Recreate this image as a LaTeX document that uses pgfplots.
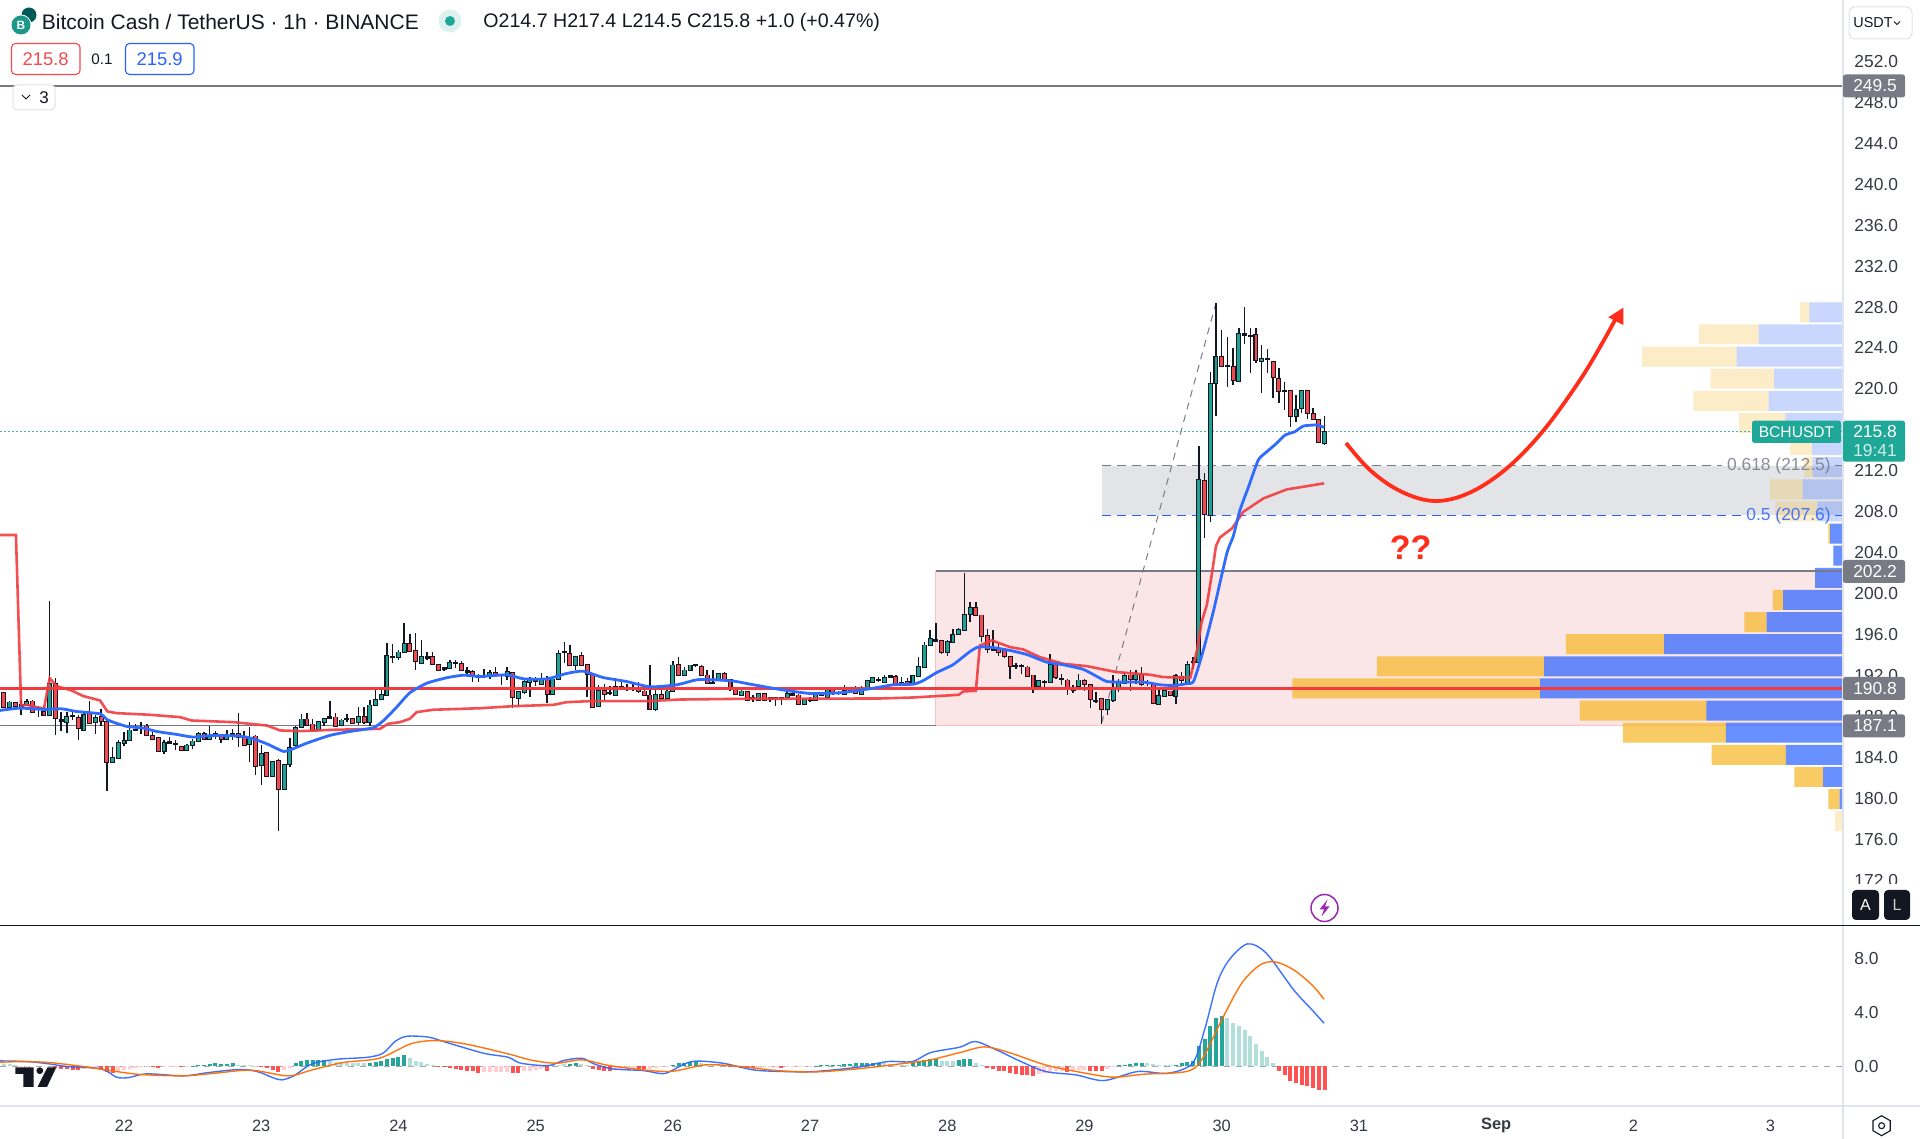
\documentclass[border=0pt]{standalone}
\usepackage{pgfplots}
\pgfplotsset{compat=1.18}
\usepackage{pgfplotstable}
\usepackage{fontspec}
\setmainfont{Liberation Sans}
\definecolor{tvgreen}{HTML}{1FA193}
\definecolor{tvred}{HTML}{F44A4F}
\definecolor{tvblack}{HTML}{131722}
\definecolor{tvgrey}{HTML}{787B86}
\definecolor{tvline}{HTML}{E0E3EB}
\definecolor{tvblue}{HTML}{2962FF}
\definecolor{emablue}{HTML}{2F6BFF}
\definecolor{linered}{HTML}{F23B3F}
\definecolor{vpyellow}{HTML}{F6B624}
\definecolor{zonepink}{HTML}{FAE6E7}
\definecolor{zonegrey}{HTML}{E2E4E7}
\definecolor{tagteal}{HTML}{1FA897}
\definecolor{histdg}{HTML}{26A69A}
\definecolor{histlg}{HTML}{B2DFDB}
\definecolor{histdr}{HTML}{FF5252}
\definecolor{histlr}{HTML}{FFCDD2}
\definecolor{macdorange}{HTML}{FF6D00}
\definecolor{arrowred}{HTML}{FF2D1A}
\definecolor{bolt}{HTML}{9C27B0}
% t: hour from 22 Aug 00:00; s: 1 up, 0 down, 2 doji
\pgfplotstableread{
t s o h l c
-21 0 190.27 190.37 188.84 188.91
-20 1 188.94 189.46 188.68 189.36
-19 0 189.30 189.40 188.91 188.97
-18 2 189.04 189.56 188.09 189.13
-17 1 189.13 189.66 189.00 189.40
-16 0 189.46 189.56 188.32 188.42
-15 2 188.68 189.00 187.93 188.81
-14 0 188.42 188.91 188.03 188.16
-13 1 188.09 199.26 188.09 191.15
-12 0 191.19 191.74 186.14 187.83
-11 2 187.64 188.42 186.53 187.57
-10 1 187.44 188.42 186.40 187.93
-9 2 188.00 188.42 187.60 188.06
-8 0 187.83 188.09 185.65 186.85
-7 1 186.72 188.35 186.63 188.16
-6 0 188.19 189.49 187.28 187.38
-5 1 187.44 188.09 186.30 187.83
-4 0 187.93 188.68 187.11 187.51
-3 0 187.44 187.51 180.70 183.50
-2 1 183.53 185.00 183.47 183.92
-1 1 183.92 185.65 183.86 185.39
0 1 185.39 186.46 185.10 185.62
1 1 185.65 187.44 185.58 186.63
2 2 186.66 187.28 186.53 186.72
3 2 186.92 187.44 186.30 186.85
4 0 187.02 187.21 186.07 186.14
5 0 186.07 186.46 185.65 185.78
6 0 185.88 185.98 184.57 184.64
7 1 184.64 185.65 184.35 185.39
8 2 185.45 185.98 185.32 185.52
9 2 185.29 185.65 184.67 185.36
10 0 185.00 185.10 184.61 184.67
11 1 184.67 185.32 184.61 185.16
12 1 185.23 185.81 184.77 185.55
13 1 185.58 186.46 185.49 186.24
14 0 186.24 186.46 185.65 185.81
15 1 185.81 187.11 185.65 186.14
16 2 186.20 186.53 185.81 186.27
17 0 186.07 186.14 185.42 185.81
18 1 185.81 186.72 185.75 186.11
19 2 186.27 186.79 185.65 186.33
20 0 186.30 188.35 185.00 185.98
21 0 185.98 186.53 185.16 185.23
22 1 185.26 186.95 183.53 185.91
23 0 186.04 186.14 182.23 183.14
24 1 183.30 185.23 181.32 184.35
25 0 184.44 184.57 182.07 182.16
26 1 182.16 183.53 182.07 183.53
27 0 183.63 183.79 176.79 180.93
28 1 180.93 183.37 180.93 183.30
29 1 183.37 185.88 183.04 184.93
30 1 185.16 187.11 184.84 186.85
31 1 186.95 188.25 186.89 187.70
32 0 187.70 188.35 187.11 187.18
33 0 187.21 187.77 186.63 186.72
34 1 186.66 187.54 186.53 187.44
35 1 187.44 187.83 187.11 187.77
36 2 187.86 189.46 187.77 187.93
37 0 187.90 188.32 187.05 187.11
38 1 187.18 187.77 187.05 187.60
39 2 187.73 188.22 187.44 187.80
40 0 187.77 187.83 187.28 187.38
41 1 187.44 188.91 187.18 187.99
42 0 187.99 188.91 187.28 187.44
43 1 187.44 189.56 187.11 189.07
44 1 189.07 190.70 189.00 189.62
45 1 189.72 190.76 189.56 190.14
46 1 190.11 195.16 189.98 193.95
47 2 193.79 195.09 193.24 193.86
48 1 193.79 194.44 193.47 194.25
49 1 194.28 197.11 194.22 195.09
50 0 195.09 196.07 194.28 194.41
51 0 194.35 196.17 192.49 193.40
52 1 193.24 195.49 193.11 193.79
53 2 193.73 194.28 193.47 193.79
54 0 193.79 194.28 192.98 193.08
55 0 193.01 193.14 192.39 192.49
56 2 192.62 192.81 192.39 192.69
57 1 192.72 193.53 192.65 193.21
58 2 193.17 193.47 192.72 193.24
59 0 193.14 193.37 192.49 192.55
60 2 192.36 192.81 192.00 192.42
61 0 192.33 192.49 191.41 191.94
62 2 191.81 192.16 191.35 191.87
63 2 191.90 192.65 191.74 191.97
64 1 191.93 192.49 191.67 192.26
65 0 192.26 192.81 191.93 192.00
66 2 192.00 192.06 191.09 192.06
67 1 191.93 192.81 191.51 192.32
68 0 192.26 192.32 188.81 189.88
69 1 189.78 190.53 188.97 190.37
70 1 190.37 191.51 190.21 191.35
71 1 191.41 191.84 189.88 191.67
72 2 191.48 191.84 190.96 191.54
73 1 191.18 192.26 191.09 191.51
74 0 191.51 191.93 189.33 190.21
75 1 190.21 191.93 190.11 191.61
76 1 191.67 194.51 191.61 194.12
77 2 194.25 195.26 193.24 194.31
78 0 194.12 194.93 192.91 193.04
79 1 193.04 193.95 192.49 193.79
80 0 193.95 194.28 192.98 193.07
81 0 193.04 193.14 189.88 192.10
82 0 192.06 192.06 188.81 188.90
83 1 188.97 191.02 188.90 190.53
84 0 190.53 191.18 189.65 190.21
85 2 190.27 190.96 190.05 190.34
86 1 190.05 191.74 189.98 190.92
87 2 190.79 191.51 190.63 190.86
88 2 190.66 191.18 190.53 190.73
89 2 190.66 191.25 190.53 190.73
90 0 190.76 191.35 190.31 190.44
91 0 190.44 190.96 189.98 190.05
92 0 190.05 193.04 188.64 188.74
93 1 188.74 190.96 188.48 190.14
94 0 190.14 190.96 189.72 189.82
95 1 189.82 190.86 189.72 190.44
96 1 190.53 193.46 190.37 192.98
97 0 193.04 193.85 191.93 192.06
98 1 192.06 192.81 192.00 192.49
99 1 192.55 193.07 192.49 192.98
100 2 192.98 193.07 192.81 193.04
101 0 192.81 192.98 192.00 192.06
102 0 192.00 192.49 191.12 191.25
103 2 191.25 192.49 191.18 191.31
104 1 191.51 192.26 191.45 192.13
105 0 192.19 192.32 191.45 191.51
106 0 191.54 191.67 190.53 190.63
107 0 190.63 190.76 190.05 190.21
108 1 190.05 190.63 189.98 190.44
109 0 190.37 190.44 189.56 189.65
110 2 189.75 190.05 189.39 189.82
111 1 189.65 190.31 189.56 190.21
112 0 190.21 190.31 189.56 189.65
113 2 189.72 189.88 189.39 189.78
114 2 189.75 189.88 189.00 189.82
115 2 189.75 189.91 189.07 189.82
116 1 189.85 190.63 189.78 190.21
117 2 190.11 190.70 190.05 190.18
118 0 190.05 190.21 189.13 189.26
119 1 189.26 189.78 189.20 189.62
120 2 189.59 189.88 189.39 189.65
121 1 189.59 190.31 189.52 190.05
122 2 190.08 190.37 189.98 190.14
123 1 189.85 190.70 189.78 190.57
124 0 190.57 190.70 190.14 190.24
125 2 190.24 190.44 190.05 190.31
126 1 190.21 191.09 190.11 190.53
127 2 190.57 190.76 190.44 190.63
128 0 190.63 190.96 190.21 190.27
129 1 190.21 190.96 190.14 190.63
130 1 190.70 191.58 190.63 191.45
131 1 191.35 191.87 191.28 191.74
132 2 191.54 191.84 191.35 191.61
133 1 191.35 192.00 191.28 191.74
134 2 191.87 192.06 191.74 191.93
135 0 191.84 192.00 191.09 191.15
136 2 191.18 191.84 191.09 191.25
137 0 191.41 191.74 191.15 191.22
138 1 191.25 192.06 191.18 191.93
139 1 191.93 193.79 191.84 192.81
140 1 192.81 195.26 192.72 194.93
141 1 194.99 196.40 194.93 195.55
142 2 195.39 197.14 195.32 195.45
143 0 195.35 195.48 194.12 194.28
144 1 194.28 195.42 193.89 195.26
145 1 195.26 196.56 195.19 195.97
146 1 196.04 196.62 195.97 196.46
147 1 196.46 202.00 196.40 197.93
148 1 197.99 199.17 197.21 198.58
149 0 198.58 199.17 197.80 197.93
150 0 197.86 197.93 195.26 195.81
151 0 195.84 196.50 194.22 194.54
152 2 194.51 196.40 194.35 194.57
153 0 194.61 195.09 193.89 194.28
154 0 194.35 194.54 193.69 193.95
155 0 193.79 193.95 191.61 192.88
156 2 192.88 193.24 192.59 192.95
157 2 192.88 193.14 192.16 192.95
158 0 192.78 192.91 191.84 191.94
159 0 192.00 192.07 190.31 190.86
160 1 190.93 191.51 190.86 191.45
161 2 191.32 191.51 190.70 191.38
162 1 191.35 194.12 191.28 193.04
163 0 193.11 193.24 191.67 191.87
164 2 191.64 192.16 191.02 191.71
165 0 191.51 191.61 190.14 190.63
166 2 190.60 191.02 190.31 190.67
167 1 190.96 192.16 190.86 191.51
168 0 191.45 191.61 190.53 191.19
169 0 191.09 191.19 188.81 189.66
170 2 189.49 190.37 189.33 189.56
171 0 189.66 189.72 187.28 188.68
172 1 188.68 189.72 188.09 189.59
173 1 189.59 192.00 189.40 190.70
174 1 190.86 191.67 190.37 191.35
175 1 191.28 192.33 191.19 191.94
176 0 192.00 192.49 190.53 191.61
177 1 191.61 192.49 191.19 192.07
178 0 192.07 192.81 190.96 191.19
179 2 191.22 191.51 190.96 191.28
180 0 191.09 191.19 189.23 189.33
181 1 189.20 190.86 189.13 189.98
182 1 189.95 190.60 189.88 190.53
183 0 190.44 190.53 189.98 190.05
184 1 189.95 192.16 189.17 191.94
185 0 191.90 192.33 191.02 191.58
186 1 191.35 193.37 191.28 193.04
187 2 193.27 193.79 192.65 193.34
188 1 193.28 214.42 193.18 211.06
189 0 211.03 211.81 205.46 207.77
190 1 207.71 221.68 206.96 220.51
191 1 220.54 228.42 217.35 223.15
192 0 223.08 225.75 222.10 222.23
193 2 222.20 225.03 220.21 222.27
194 0 222.17 223.96 220.38 220.87
195 1 220.80 225.91 220.80 225.36
196 2 225.30 228.03 224.35 225.36
197 2 225.13 225.91 221.52 225.20
198 0 225.23 225.91 222.49 222.82
199 1 222.69 224.29 219.63 222.95
200 2 222.89 223.93 221.52 222.95
201 0 222.66 222.75 219.07 221.13
202 0 220.96 222.00 218.59 219.82
203 2 219.76 220.70 217.93 219.82
204 0 219.76 219.82 216.31 217.35
205 1 217.35 219.40 216.79 217.93
206 1 218.13 219.89 217.67 219.76
207 0 219.76 219.89 217.02 217.61
208 0 217.54 218.10 216.96 217.02
209 0 216.96 217.02 214.68 214.81
210 1 214.74 217.40 214.50 215.80
}\candles
% p: price bin; bs/bp: up volume (strong, pale); ys/yp: down volume (strong, pale)
\pgfplotstableread{
p bs bp ys yp
227.48 0 33.7 0 9.3
225.32 0 84.3 0 59.7
223.16 0 106.3 0 94.7
221.00 0 69 0 63.3
218.84 0 74.3 0 75.3
216.67 0 57.7 0 46.3
214.51 0 31 0 22
212.35 0 30.3 0 8.7
210.19 0 40.3 0 32.7
208.03 0 25.7 0 42
205.86 13 0 1.7 0
203.70 9.7 0 0 0
201.54 27.8 0 0 0
199.38 60 0 10.2 0
197.22 76.3 0 22.4 0
195.05 178.8 0 98.4 0
192.89 298.8 0 167.3 0
190.73 302.9 0 247.8 0
188.57 136.7 0 126.5 0
186.41 117.2 0 102.9 0
184.24 57.1 0 74.3 0
182.08 20 0 28.6 0
179.92 3.3 0 11.4 0
177.76 0 0 0 8.2
}\vprofile
\begin{document}
\begin{tikzpicture}
\useasboundingbox (0,0) rectangle (960pt,569.5pt);
\fill[white] (0,0) rectangle (960pt,569.5pt);
% zones
\begin{axis}[at={(0pt,106.75pt)},anchor=south west,scale only axis,width=921.5pt,height=462.75pt,
  xmin=-21.69,xmax=300.68,ymin=167.57,ymax=258,hide axis]
\fill[zonepink] (axis cs:142,187.1) rectangle (axis cs:300.68,202.2);
\draw[red!25,line width=.6pt] (axis cs:142,202.2) -- (axis cs:142,187.1) -- (axis cs:300.68,187.1);
\fill[zonegrey] (axis cs:171,207.65) rectangle (axis cs:300.68,212.5);
\end{axis}
% volume profile
\begin{axis}[at={(0pt,106.75pt)},anchor=south west,scale only axis,width=921.5pt,height=462.75pt,
  xmin=0,xmax=1843,x dir=reverse,ymin=167.57,ymax=258,hide axis,xbar stacked,bar width=10pt]
\addplot[draw=none,fill=tvblue,fill opacity=.7] table[y=p,x=bs] {\vprofile};
\addplot[draw=none,fill=tvblue,fill opacity=.25] table[y=p,x=bp] {\vprofile};
\addplot[draw=none,fill=vpyellow,fill opacity=.7] table[y=p,x=ys] {\vprofile};
\addplot[draw=none,fill=vpyellow,fill opacity=.25] table[y=p,x=yp] {\vprofile};
\end{axis}
% price pane
\begin{axis}[at={(0pt,106.75pt)},anchor=south west,scale only axis,width=921.5pt,height=462.75pt,
  xmin=-21.69,xmax=300.68,ymin=167.57,ymax=258,
  axis line style={draw=none},major tick length=0pt,xtick=\empty,
  ytick={172,176,...,252},yticklabel pos=right,
  y tick label style={font=\fontsize{8.7pt}{10pt}\selectfont,text=tvblack!85,anchor=west,inner sep=0pt,xshift=5.5pt,
    /pgf/number format/.cd,fixed,fixed zerofill,precision=1,assume math mode=true}]
\addplot[tvgrey,line width=.75pt,forget plot] coordinates {(-21.69,249.6)(300.68,249.6)};
\addplot[tvgrey,line width=.7pt,forget plot] coordinates {(-21.69,187.1)(142,187.1)};
\addplot[tvgrey,line width=.7pt,forget plot] coordinates {(142,202.2)(300.68,202.2)};
\addplot[tvgrey,line width=.5pt,dash pattern=on 4.5pt off 3pt,forget plot] coordinates {(171,212.5)(279.5,212.5)};
\addplot[tvgrey,line width=.5pt,forget plot] coordinates {(299.2,212.5)(300.68,212.5)};
\addplot[tvblue,line width=.5pt,dash pattern=on 4.5pt off 3pt,forget plot] coordinates {(171,207.65)(283,207.65)};
\addplot[tvblue,line width=.5pt,forget plot] coordinates {(299.2,207.65)(300.68,207.65)};
\addplot[tvgrey,line width=.5pt,dash pattern=on 3.5pt off 3pt,forget plot] coordinates {(171,187.35)(191,228.4)};
\addplot[tagteal!85,line width=.6pt,dash pattern=on .8pt off 1.2pt,forget plot] coordinates {(-21.69,215.8)(300.68,215.8)};
% wicks
\addplot[draw=none,mark=none,forget plot,error bars/.cd,y dir=both,y explicit,error mark=none,error bar style={draw=tvblack,line width=.7pt}]
  table[x=t,y=c,y error plus expr=\thisrow{h}-\thisrow{c},y error minus expr=\thisrow{c}-\thisrow{l}] {\candles};
% body border
\addplot[draw=none,mark=none,forget plot,error bars/.cd,y dir=both,y explicit,error mark=none,error bar style={draw=tvblack,line width=2.5pt}]
  table[x=t,y expr={min(\thisrow{o},\thisrow{c})},y error plus expr={abs(\thisrow{c}-\thisrow{o})+0.09},y error minus expr=0.09] {\candles};
% body fill: bars of zero length for the candles of the other class
\addplot[draw=none,mark=none,forget plot,error bars/.cd,y dir=both,y explicit,error mark=none,error bar style={draw=tvgreen,line width=1.45pt}]
  table[x=t,y expr={min(\thisrow{o},\thisrow{c})},y error plus expr={\thisrow{s}==1 ? abs(\thisrow{c}-\thisrow{o}) : 0},y error minus expr=0] {\candles};
\addplot[draw=none,mark=none,forget plot,error bars/.cd,y dir=both,y explicit,error mark=none,error bar style={draw=tvred,line width=1.45pt}]
  table[x=t,y expr={min(\thisrow{o},\thisrow{c})},y error plus expr={\thisrow{s}==0 ? abs(\thisrow{c}-\thisrow{o}) : 0},y error minus expr=0] {\candles};
% horizontal 190.8
\addplot[linered,line width=1.25pt,forget plot] coordinates {(-21.69,190.72)(300.68,190.72)};
% long moving line
\addplot[linered,opacity=.9,line width=1.3pt,forget plot] coordinates {
(-21.69,205.72)(-18.9,205.72)(-18,189.07)(-17,189.13)(-14,188.75)(-13,191.74)(-11.8,190.96)(-9.2,190.54)(-7.1,189.98)(-4.2,189.56)(-2.9,188.48)(-1.3,188.32)(4.5,188.16)(9.8,187.93)(11.8,187.6)(19.1,187.44)(25,187.11)(27.3,186.63)(30.8,186.56)(36.6,186.69)(44.8,186.79)(46.2,187.28)(48.3,187.44)(50,187.77)(51.2,188.42)(54.1,188.65)(62.3,188.8)(68.1,189)(75.1,189.13)(77.4,189.39)(81.5,189.49)(91.4,189.49)(97.3,189.65)(108.9,189.72)(132.2,189.75)(138.1,189.85)(146,190.11)(146.8,190.44)(149,190.5)(149.7,194.93)(151.8,195.42)(155,194.77)(157.3,194.54)(160.2,193.79)(164.3,193.14)(168.4,192.91)(173.6,192.33)(179.5,192.07)(181.8,191.84)(186.5,191.77)(187.7,194.48)(188.5,197.25)(189.4,198.88)(190.3,201.98)(191,204.65)(191.7,205.49)(193.8,206.37)(195.8,208)(199.3,209.3)(203.4,210.18)(206.3,210.44)(209.9,210.77)};
% fast EMA
\addplot[emablue,line width=1.4pt,smooth,tension=.35,forget plot] coordinates {
(-21.69,188.58)(-18.2,188.81)(-14,188.68)(-11,188.75)(-8.3,188.48)(-4.2,188.25)(-3,187.7)(-1.6,187.38)(.5,187.02)(3.4,186.85)(5.7,186.53)(9.2,186.24)(12.1,185.98)(15.6,186.14)(20.3,186.07)(22.6,185.81)(25,185.32)(27.9,184.58)(29.6,184.84)(32,185.39)(36,186.14)(39.5,186.53)(43.6,186.89)(45.4,187.6)(47.7,188.91)(50,190.31)(53,191.25)(56.4,191.77)(59.4,192.03)(62.3,191.9)(67,192.06)(69.9,191.67)(74,191.67)(77.4,192.19)(80.3,192.42)(83.8,191.8)(87.9,191.41)(92,190.89)(96.7,191.09)(100.2,191.58)(103.1,191.58)(106.6,191.45)(110.1,191.09)(114.8,190.63)(120,190.24)(125.3,190.31)(131.1,190.76)(134.6,191.09)(138.1,191.15)(139.8,191.5)(142.2,192.3)(145,193.05)(148,194.35)(149.4,194.77)(151.5,194.77)(155,194.44)(157.9,194.05)(161.4,193.3)(164.3,193.04)(167.8,192.59)(170.7,191.74)(171.9,191.41)(174.2,191.35)(178.3,191.35)(181.2,191.09)(183.6,191.02)(185.9,191.2)(187.1,191.45)(188.8,194.48)(190.6,198.39)(192.9,203.93)(194,205.56)(195.2,208.16)(196.7,210.44)(198.4,213.05)(199.9,213.86)(201.6,214.68)(203.1,215.49)(204.8,215.82)(206.3,216.37)(208.6,216.47)(209.9,216.24)};
\end{axis}
% MACD pane
\begin{axis}[at={(0pt,16.5pt)},anchor=south west,scale only axis,width=921.5pt,height=90pt,
  xmin=-21.69,xmax=300.68,ymin=-2.97,ymax=10.4,
  axis line style={draw=none},major tick length=0pt,
  xtick={0,24,48,72,96,120,144,168,192,216,240,264,288},
  xticklabels={22,23,24,25,26,27,28,29,30,31,\textbf{Sep},2,3},
  x tick label style={font=\fontsize{8.2pt}{10pt}\selectfont,text=tvblack!85,anchor=center,yshift=-9.85pt},
  ytick={0,4,8},yticklabel pos=right,
  y tick label style={font=\fontsize{8.7pt}{10pt}\selectfont,text=tvblack!85,anchor=west,inner sep=0pt,xshift=5.5pt,
    /pgf/number format/.cd,fixed,fixed zerofill,precision=1,assume math mode=true}]
\addplot[black!35,line width=.5pt,dash pattern=on 3pt off 3pt,forget plot] coordinates {(-21.69,0)(300.68,0)};
\addplot[ycomb,histdg,line width=2pt,mark=none,forget plot] coordinates {
(12,.03)(13,.06)(14,.1)(15,.12)(16,.2)(17,.15)(18,.18)(19,.2)(30,.2)(31,.35)(32,.42)(33,.45)(34,.45)(35,.47)(43,.25)(44,.3)(45,.4)(46,.5)(47,.6)(48,.7)(49,.8)(78,.15)(79,.2)(96,.1)(97,.2)(98,.25)(99,.3)(100,.3)(121,.03)(122,.05)(123,.07)(124,.08)(125,.1)(126,.12)(127,.15)(128,.2)(129,.22)(130,.2)(131,.25)(132,.25)(138,.2)(139,.35)(140,.45)(141,.5)(142,.5)(146,.45)(147,.5)(148,.55)(174,.06)(175,.1)(176,.15)(177,.25)(178,.25)(184,.1)(185,.2)(186,.3)(187,.35)(188,1.48)(189,1.98)(190,2.97)(191,3.6)(192,3.7)};
\addplot[ycomb,histlg,line width=2pt,mark=none,forget plot] coordinates {
(-21,.15)(-20,.12)(-19,.05)(20,.1)(21,.07)(22,.04)(36,.35)(37,.32)(38,.3)(39,.25)(40,.25)(41,.2)(42,.2)(50,.6)(51,.4)(52,.3)(53,.15)(54,.05)(75,.05)(76,.1)(77,.12)(80,.15)(81,.1)(101,.2)(102,.15)(103,.12)(104,.1)(105,.08)(133,.2)(134,.18)(135,.12)(136,.1)(137,.08)(143,.35)(144,.35)(145,.35)(149,.2)(150,.08)(179,.2)(180,.12)(181,.1)(182,.06)(183,.05)(193,3.55)(194,3.17)(195,2.97)(196,2.67)(197,2.25)(198,1.63)(199,1.14)(200,.69)(201,.2)};
\addplot[ycomb,histdr,line width=2pt,mark=none,forget plot] coordinates {
(-12,-.15)(-11,-.2)(-10,-.25)(-9,-.3)(-8,-.3)(-4,-.25)(-3,-.45)(-2,-.5)(5,-.1)(6,-.15)(10,-.1)(24,-.1)(25,-.15)(26,-.3)(27,-.42)(55,-.08)(56,-.1)(57,-.15)(58,-.2)(59,-.3)(60,-.35)(61,-.4)(62,-.5)(68,-.5)(69,-.55)(74,-.4)(82,-.2)(83,-.3)(84,-.4)(85,-.4)(90,-.2)(91,-.25)(106,-.08)(107,-.1)(108,-.12)(109,-.15)(110,-.15)(115,-.12)(151,-.15)(152,-.2)(153,-.35)(154,-.4)(155,-.55)(156,-.6)(157,-.65)(158,-.7)(159,-.72)(165,-.42)(169,-.35)(170,-.38)(171,-.4)(202,-.35)(203,-.69)(204,-1.11)(205,-1.29)(206,-1.41)(207,-1.49)(208,-1.66)(209,-1.78)(210,-1.8)};
\addplot[ycomb,histlr,line width=2pt,mark=none,forget plot] coordinates {
(-18,-.03)(-17,-.05)(-7,-.2)(-6,-.15)(-5,-.1)(-1,-.4)(0,-.3)(1,-.2)(2,-.12)(3,-.1)(4,-.1)(7,-.1)(8,-.08)(9,-.08)(11,-.05)(23,-.03)(28,-.3)(29,-.15)(63,-.48)(64,-.48)(65,-.45)(66,-.45)(67,-.42)(70,-.4)(71,-.35)(72,-.3)(73,-.25)(86,-.3)(87,-.25)(88,-.2)(89,-.15)(92,-.2)(93,-.15)(94,-.1)(95,-.05)(111,-.12)(112,-.1)(113,-.1)(114,-.1)(116,-.08)(117,-.06)(118,-.05)(119,-.05)(120,-.02)(160,-.6)(161,-.55)(162,-.5)(163,-.4)(164,-.4)(166,-.3)(167,-.28)(168,-.3)(172,-.2)(173,-.1)};
\addplot[tvblue,opacity=.9,line width=.7pt,smooth,tension=.5,forget plot] coordinates {
(-21.69,.38)(-16.9,.33)(-13.1,.16)(-9.9,-.04)(-4,-.21)(-1.3,-.83)(.8,-.86)(4,-.58)(10.4,-.73)(14.7,-.49)(20.1,-.26)(23.3,-.41)(26,-.86)(27.6,-1.03)(29.7,-.73)(32.9,.16)(37.2,.5)(42.6,.65)(45.3,.95)(47.4,1.82)(49.5,2.21)(53.3,2.14)(56.5,1.74)(62.9,.95)(67.2,.65)(69.4,.21)(74.2,.03)(76.9,.41)(80.1,.58)(82.2,.16)(85.4,-.21)(90.8,-.34)(93.5,-.54)(95.1,-.49)(99.3,.33)(104.7,.21)(110.1,-.29)(115.4,-.41)(120.8,-.41)(128.3,-.09)(133.6,.33)(137.9,.33)(141.1,1)(146.2,1.4)(148.9,1.82)(152.6,1.2)(156.9,.33)(161.2,-.41)(166.5,-.66)(171.4,-1.08)(177.3,-.41)(182.6,-.54)(186.9,.21)(189,2.68)(191.2,6.15)(193.3,7.88)(196.5,9.07)(199.8,8.38)(204.6,5.65)(207.8,4.17)(209.9,3.18)};
\addplot[macdorange,opacity=.95,line width=.7pt,smooth,tension=.5,forget plot] coordinates {
(-21.69,.28)(-17.4,.33)(-13.1,.26)(-7.8,0)(-2.4,-.34)(2.9,-.63)(10.4,-.73)(15.8,-.54)(22.2,-.31)(28.7,-.73)(32.9,-.29)(38.3,.26)(44.7,.58)(50.1,1.64)(54.4,1.89)(59.7,1.64)(67.2,.9)(71.5,.41)(75.8,.21)(80.1,.46)(85.4,0)(95.1,-.41)(101.5,.08)(106.8,0)(114.3,-.34)(120.8,-.44)(128.3,-.21)(136.8,.21)(141.1,.46)(146.2,1)(150.5,1.42)(154.8,1)(161.2,.08)(167.6,-.49)(173,-.83)(178.3,-.61)(185.8,-.41)(188.5,.46)(192.3,3.67)(195.5,6.15)(198.7,7.51)(201.4,7.73)(204.6,7.14)(207.8,6.02)(209.9,4.96)};
\end{axis}
% annotations, in pixel coordinates of the 1920x1139 picture
\begin{scope}[x=0.5pt,y=-0.5pt,yshift=569.5pt]
\fill[white] (1845,884.5) rectangle (1920,925);
% panes
\draw[tvline,line width=.6pt] (1843,0) -- (1843,1139);
\draw[tvline,line width=.6pt] (0,1106) -- (1920,1106);
\draw[tvblack,line width=.75pt] (0,925.5) -- (1920,925.5);
% red path with arrow
\draw[arrowred,line width=1.9pt,smooth] plot[smooth,tension=.6] coordinates {(1346,443)(1371,471)(1402,492)(1435,501)(1469,493)(1506,469)(1543,431)(1580,380)(1604,340)(1616,318)};
\fill[arrowred] (1623.3,307.7) -- (1608.3,317.3) -- (1623.3,325) -- cycle;
\node[text=arrowred,font=\fontsize{17pt}{20pt}\bfseries\selectfont,inner sep=0pt] at (1410.6,548) {??};
% fib labels
\node[anchor=east,inner sep=0pt,text=tvgrey,opacity=.85,font=\fontsize{8.7pt}{10pt}\selectfont] at (1831,465.7) {0.618 (212.5)};
\node[anchor=east,inner sep=0pt,text=tvblue,opacity=.85,font=\fontsize{8.7pt}{10pt}\selectfont] at (1831,516) {0.5 (207.6)};
% price tags
\foreach \yy/\tt in {86/249.5,571.5/202.2,688.5/190.8,726/187.1}{
  \fill[tvgrey,rounded corners=1.2pt] (1843,\yy-11.5) rectangle (1905,\yy+11.5);
  \node[text=white,inner sep=0pt,font=\fontsize{8.7pt}{10pt}\selectfont] at (1875,\yy) {\tt};
}
\fill[tagteal,rounded corners=1.2pt] (1752,420.7) rectangle (1841,443);
\node[text=white,inner sep=0pt,font=\fontsize{7.8pt}{10pt}\selectfont] at (1796.5,432) {BCHUSDT};
\fill[tagteal,rounded corners=1.2pt] (1843,420.7) rectangle (1905,461.7);
\node[text=white,inner sep=0pt,font=\fontsize{8.7pt}{10pt}\selectfont] at (1875,432) {215.8};
\node[text=white!80!tagteal,inner sep=0pt,font=\fontsize{8.7pt}{10pt}\selectfont] at (1875,451) {19:41};
% A and L buttons
\fill[tvblack,rounded corners=2pt] (1852,890) rectangle (1879,920);
\node[text=white,inner sep=0pt,font=\fontsize{8pt}{10pt}\selectfont] at (1865.5,905) {A};
\fill[tvblack,rounded corners=2pt] (1884,890) rectangle (1910,920);
\node[text=white!80!black,inner sep=0pt,font=\fontsize{8pt}{10pt}\selectfont] at (1897,905) {L};
% bolt icon
\draw[bolt,line width=.75pt] (1324.5,908) circle [radius=13.5];
\fill[bolt] (1327.5,899.5) -- (1319.5,909.5) -- (1324,909.5) -- (1321.5,916.5) -- (1329.5,906.5) -- (1325,906.5) -- cycle;
% header
\fill[teal!70!black] (29,15) circle [radius=7.5];
\fill[white] (21,25) circle [radius=10.5];
\fill[tagteal!90!black] (21,25) circle [radius=9.5];
\node[text=white,inner sep=0pt,font=\fontsize{6pt}{7pt}\bfseries\selectfont] at (21,25) {B};
\node[anchor=west,inner sep=0pt,text=tvblack,font=\fontsize{10.5pt}{12pt}\selectfont] at (41.5,22) {Bitcoin Cash / TetherUS · 1h · BINANCE};
\fill[tagteal!15] (450,21) circle [radius=11.5];
\fill[tagteal] (450,21) circle [radius=5];
\node[anchor=west,inner sep=0pt,text=tvblack,font=\fontsize{9.8pt}{11pt}\selectfont] at (483,22) {O214.7 H217.4 L214.5 C215.8 +1.0 (+0.47\%)};
\draw[tvred,line width=.55pt,fill=white,rounded corners=2pt] (11.5,43.5) rectangle (80,74.5);
\node[text=tvred,inner sep=0pt,font=\fontsize{9.2pt}{11pt}\selectfont] at (45.7,59) {215.8};
\node[text=tvblack,inner sep=0pt,font=\fontsize{7.6pt}{10pt}\selectfont] at (102,59) {0.1};
\draw[tvblue,line width=.55pt,fill=white,rounded corners=2pt] (125.5,43.5) rectangle (194,74.5);
\node[text=tvblue,inner sep=0pt,font=\fontsize{9.2pt}{11pt}\selectfont] at (159.7,59) {215.9};
\draw[tvline,line width=.5pt,fill=white,rounded corners=2pt] (13,85) rectangle (55,110);
\draw[tvblack,line width=.5pt] (22,95) -- (26,99) -- (30,95);
\node[text=tvblack,inner sep=0pt,font=\fontsize{8.5pt}{10pt}\selectfont] at (44,97.5) {3};
\draw[tvline,line width=.5pt,fill=white,rounded corners=3pt] (1849,7) rectangle (1912,39);
\node[text=tvblack,inner sep=0pt,font=\fontsize{7.2pt}{9pt}\selectfont] at (1873,23) {USDT};
\draw[tvblack,line width=.4pt] (1894,21.5) -- (1897,24.5) -- (1900,21.5);
% logo
\fill[tvblack] (15.3,1067.3) -- (33.7,1067.3) -- (33.7,1087) -- (23.3,1087) -- (23.3,1074) -- (15.3,1074) -- cycle;
\fill[tvblack] (39.8,1070.7) circle [radius=3.4];
\fill[tvblack] (56.3,1067.3) -- (47.5,1067.3) -- (37.5,1087) -- (47,1087) -- cycle;
% settings icon
\draw[tvblack,line width=.55pt] (1881.6,1115.7) -- (1890.2,1120.7) -- (1890.2,1130.7) -- (1881.6,1135.7) -- (1873,1130.7) -- (1873,1120.7) -- cycle;
\draw[tvblack,line width=.55pt] (1881.6,1125.7) circle [radius=3];
\end{scope}
\end{tikzpicture}
\end{document}
